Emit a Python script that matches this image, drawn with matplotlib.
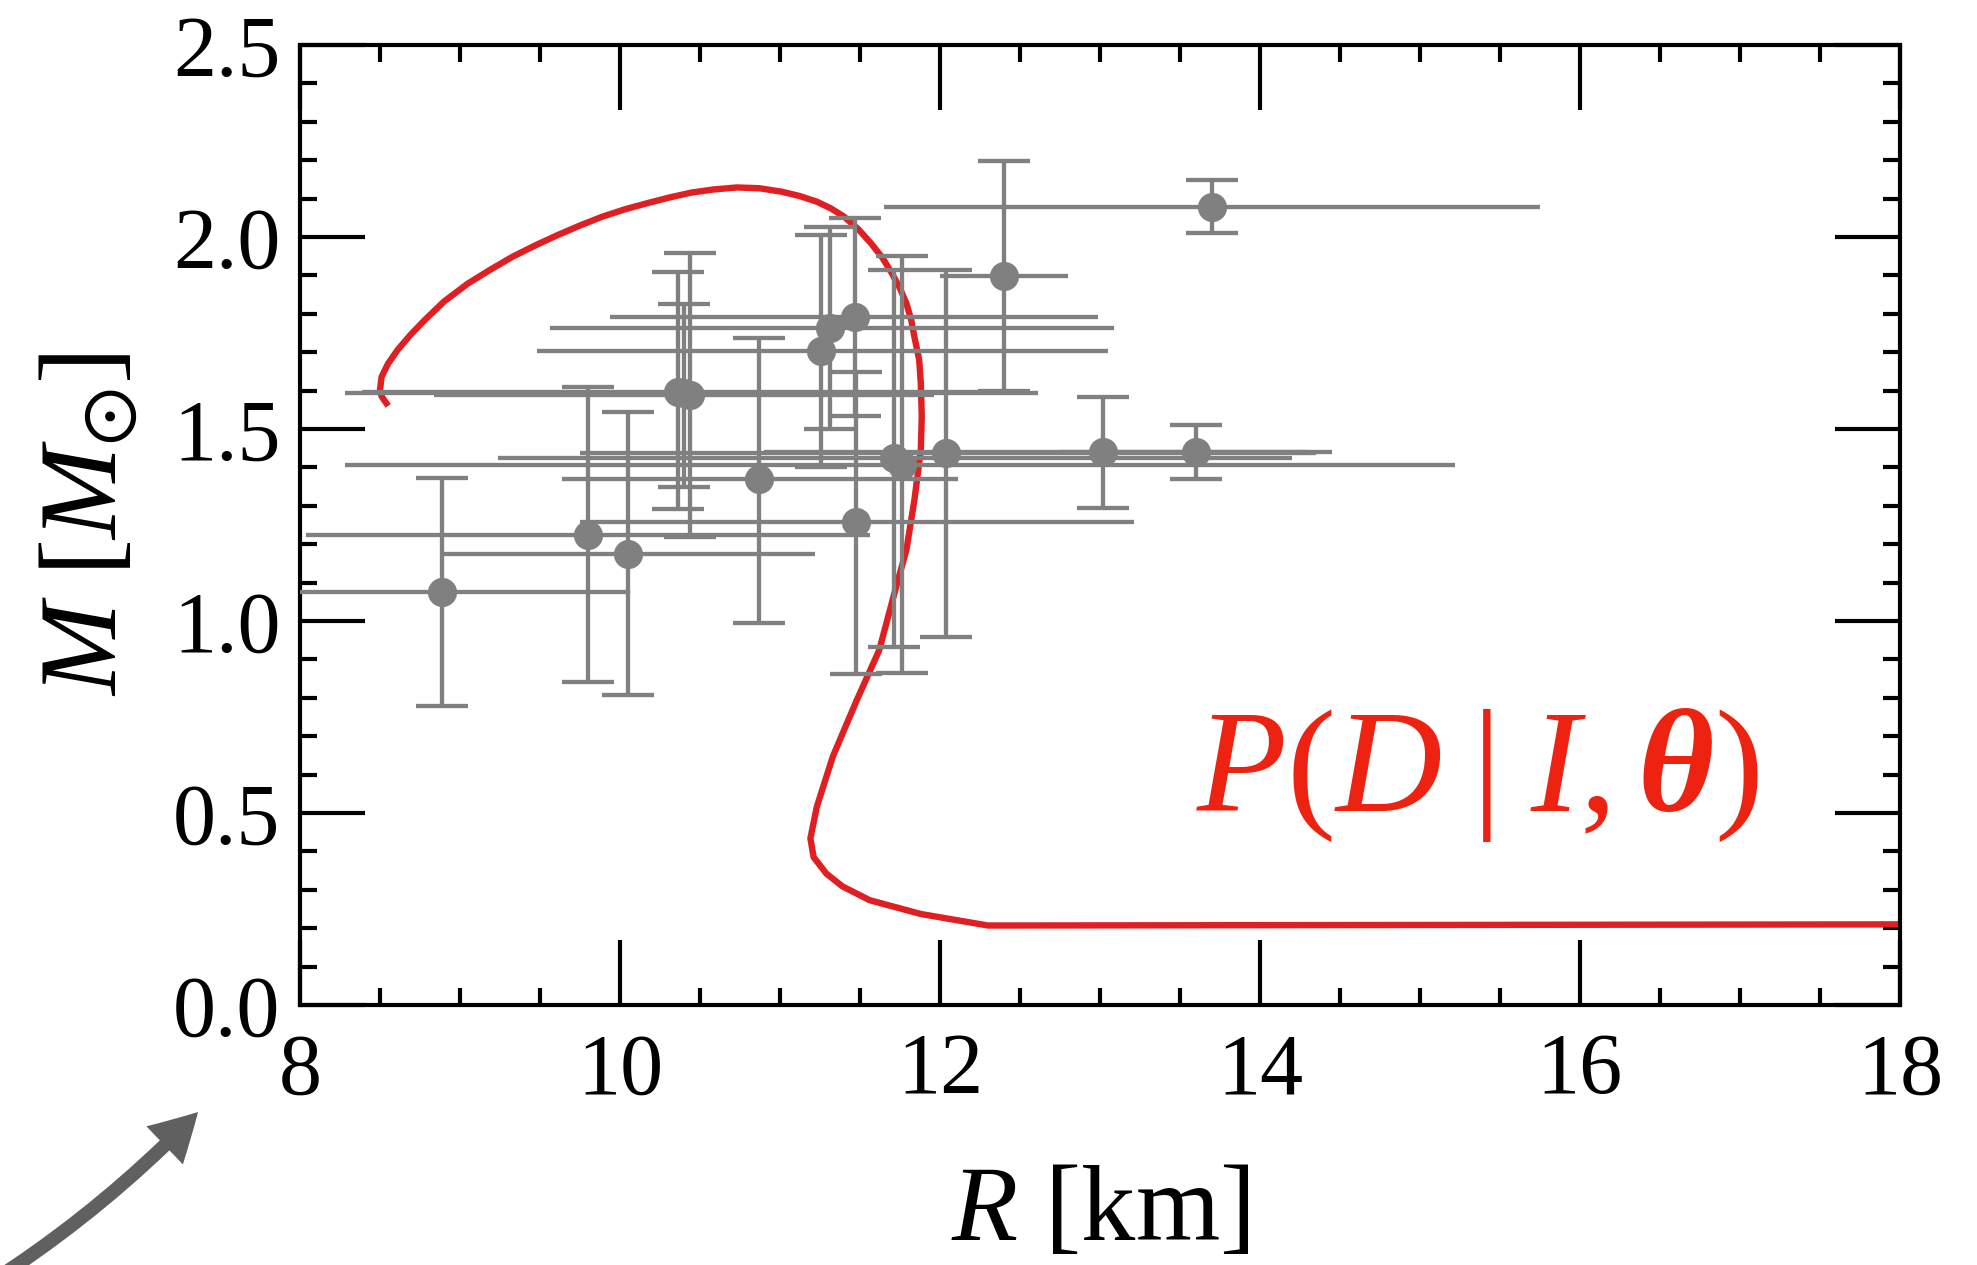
import matplotlib

matplotlib.use("Agg")

import matplotlib.pyplot as plt
from matplotlib.patches import FancyArrowPatch
from matplotlib.ticker import MultipleLocator

# measured neutron stars: radius [km] and mass [Msun] with their ranges
radius = [8.886, 9.80, 10.05, 10.365, 10.40, 10.44, 10.87, 11.256, 11.31,
          11.47, 11.475, 12.40, 13.70, 13.02, 13.60, 12.04, 11.71, 11.76]
radius_low = [7.9, 8.04, 8.89, 8.39, 8.28, 8.84, 9.64, 9.48, 9.56,
              9.94, 9.75, 12.0, 11.65, 10.9, 12.75, 9.75, 9.24, 8.28]
radius_high = [10.05, 11.56, 11.22, 12.34, 12.61, 11.96, 12.11, 13.05, 13.09,
               12.99, 13.21, 12.80, 15.75, 14.30, 14.45, 14.35, 14.20, 15.22]

mass = [1.076, 1.224, 1.174, 1.597, 1.594, 1.589, 1.369, 1.704, 1.764,
        1.791, 1.257, 1.898, 2.079, 1.441, 1.441, 1.438, 1.425, 1.406]
mass_low = [0.779, 0.840, 0.806, 1.291, 1.350, 1.218, 0.996, 1.402, 1.500,
            1.534, 0.861, 1.600, 2.010, 1.293, 1.369, 0.959, 0.933, 0.865]
mass_high = [1.373, 1.609, 1.543, 1.910, 1.826, 1.959, 1.736, 2.005, 2.027,
             2.049, 1.648, 2.199, 2.149, 1.584, 1.510, 1.914, 1.914, 1.951]

# mass-radius relation of the model
eos_radius = [8.54, 8.51, 8.50, 8.51, 8.55, 8.61, 8.69, 8.78, 8.90, 9.05,
              9.19, 9.33, 9.47, 9.61, 9.75, 9.89, 10.03, 10.17, 10.31, 10.45,
              10.59, 10.73, 10.87, 11.01, 11.12, 11.23, 11.32, 11.40, 11.49,
              11.57, 11.64, 11.70, 11.75, 11.79, 11.82, 11.84, 11.87, 11.88,
              11.886, 11.88, 11.86, 11.84, 11.79, 11.72, 11.62, 11.48, 11.33,
              11.23, 11.19, 11.21, 11.29, 11.39, 11.56, 11.88, 12.30, 18.0]
eos_mass = [1.567, 1.585, 1.602, 1.636, 1.670, 1.706, 1.745, 1.784, 1.832,
            1.879, 1.915, 1.949, 1.978, 2.005, 2.030, 2.053, 2.072, 2.088,
            2.103, 2.116, 2.124, 2.129, 2.127, 2.118, 2.107, 2.092, 2.074,
            2.053, 2.020, 1.983, 1.946, 1.905, 1.866, 1.827, 1.784, 1.740,
            1.680, 1.619, 1.532, 1.445, 1.380, 1.315, 1.185, 1.080, 0.924,
            0.794, 0.647, 0.516, 0.434, 0.385, 0.342, 0.309, 0.273, 0.237,
            0.207, 0.210]

GREY = "#808080"
RED_LINE = "#DF1F22"
RED_TEXT = "#EE2211"

plt.rcParams["font.family"] = ["Liberation Serif", "DejaVu Serif"]
plt.rcParams["mathtext.fontset"] = "custom"
plt.rcParams["mathtext.rm"] = "Liberation Serif"
plt.rcParams["mathtext.it"] = "Liberation Serif:italic"
plt.rcParams["mathtext.bf"] = "Liberation Serif:italic:bold"
plt.rcParams["mathtext.fallback"] = "stix"


def main() -> None:
    fig = plt.figure(figsize=(19.77, 12.65), dpi=100)
    ax = fig.add_axes([0.15175, 0.20553, 0.8093, 0.7589])

    ax.plot(eos_radius, eos_mass, color=RED_LINE, linewidth=4.6,
            solid_joinstyle="round", zorder=2)

    xerr = [
        [r - lo for r, lo in zip(radius, radius_low)],
        [hi - r for r, hi in zip(radius, radius_high)],
    ]
    yerr = [
        [m - lo for m, lo in zip(mass, mass_low)],
        [hi - m for m, hi in zip(mass, mass_high)],
    ]

    # horizontal bars carry no caps, vertical ones do
    ax.errorbar(radius, mass, xerr=xerr, fmt="none", ecolor=GREY,
                elinewidth=3.1, capsize=0, zorder=3)
    ax.errorbar(radius, mass, yerr=yerr, fmt="none", ecolor=GREY,
                elinewidth=3.1, capsize=19, capthick=3.1, zorder=3)
    ax.plot(radius, mass, linestyle="none", marker="o", markersize=21,
            markeredgewidth=0, color=GREY, zorder=4)

    ax.text(13.6, 0.505, r"$P(D\;|\;I,\mathbf{\theta})$", color=RED_TEXT,
            fontsize=106, va="baseline", ha="left")

    ax.set_xlim(8, 18)
    ax.set_ylim(0, 2.5)
    ax.xaxis.set_major_locator(MultipleLocator(2))
    ax.xaxis.set_minor_locator(MultipleLocator(0.5))
    ax.yaxis.set_major_locator(MultipleLocator(0.5))
    ax.yaxis.set_minor_locator(MultipleLocator(0.1))

    ax.tick_params(which="both", direction="in", top=True, right=True,
                   width=3.0, labelsize=62)
    ax.tick_params(which="major", length=47)
    ax.tick_params(which="minor", length=12)
    ax.tick_params(axis="x", which="major", pad=20)
    ax.tick_params(axis="y", which="major", pad=14)
    for spine in ax.spines.values():
        spine.set_linewidth(3.0)

    ax.set_xlabel(r"$R$ [km]", fontsize=78, labelpad=38)
    ax.set_ylabel(r"$M\ [M_{\odot}]$", fontsize=80, labelpad=24)

    arrow = FancyArrowPatch(
        (-0.006, -0.015), (200 / 1977, 1 - 1110 / 1265),
        transform=fig.transFigure,
        arrowstyle="simple,head_length=1.7,head_width=1.9,tail_width=0.5",
        mutation_scale=20,
        connectionstyle="arc3,rad=0.06",
        color="#606060",
        linewidth=0,
    )
    fig.add_artist(arrow)

    fig.savefig("out.png", dpi=100)
    plt.close(fig)


if __name__ == "__main__":
    main()
